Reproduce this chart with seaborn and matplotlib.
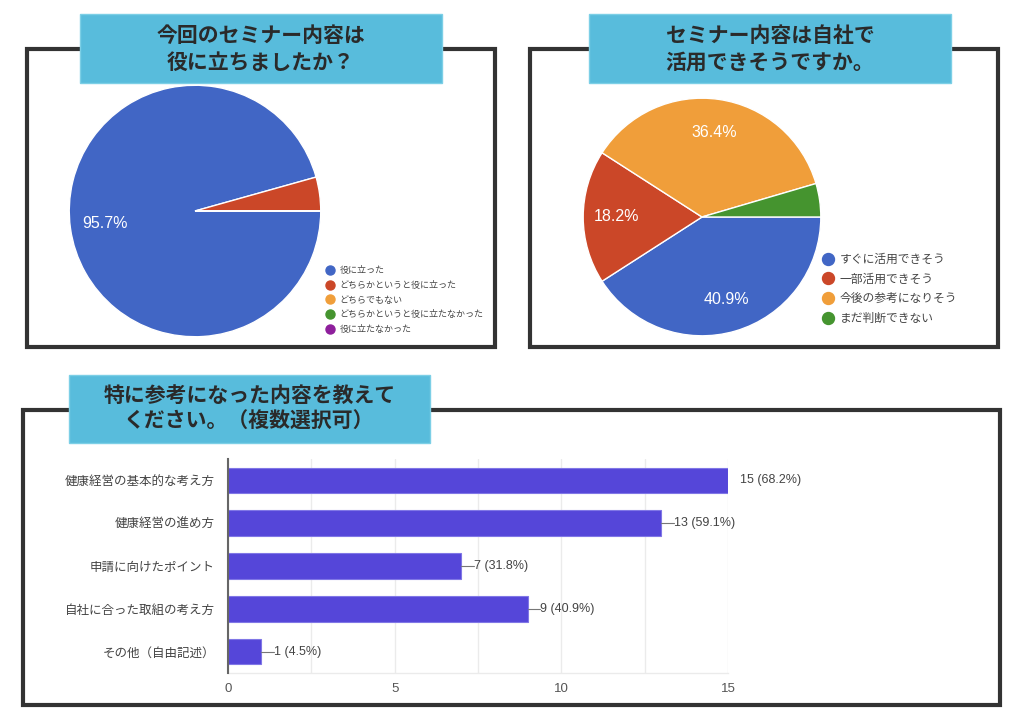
import matplotlib
matplotlib.use('Agg')
import matplotlib.pyplot as plt
import seaborn as sns
import pandas as pd
from matplotlib.patches import Rectangle
from matplotlib.lines import Line2D

W, H = 1024, 721

# ---------------- data ----------------
q1_title = "今回のセミナー内容は\n役に立ちましたか？"
q1_labels = ["役に立った", "どちらかというと役に立った", "どちらでもない",
             "どちらかというと役に立たなかった", "役に立たなかった"]
q1_counts = [22, 1, 0, 0, 0]

q2_title = "セミナー内容は自社で\n活用できそうですか。"
q2_labels = ["すぐに活用できそう", "一部活用できそう", "今後の参考になりそう", "まだ判断できない"]
q2_counts = [9, 4, 8, 1]

q3_title = "特に参考になった内容を教えて\nください。（複数選択可）"
q3_labels = ["健康経営の基本的な考え方", "健康経営の進め方", "申請に向けたポイント",
             "自社に合った取組の考え方", "その他（自由記述）"]
q3_counts = [15, 13, 7, 9, 1]
q3_total = 22
q3_ticks = [0, 5, 10, 15]
q3_minor = [2.5, 7.5, 12.5]

pie_colors = ["#4166C5", "#CB4728", "#F09E3A", "#45942F", "#8E1F9C"]
bar_color = "#5546D9"
title_bg = "#58BCDC"

# ---------------- style ----------------
sns.set_theme(style="white")
plt.rcParams['font.family'] = ['Liberation Sans', 'Noto Sans CJK JP', 'DejaVu Sans']
JP = ['Noto Sans CJK JP', 'DejaVu Sans']
LAT = ['Liberation Sans', 'Noto Sans CJK JP']


def px(x0, y0, x1, y1):
    return [x0 / W, 1 - y1 / H, (x1 - x0) / W, (y1 - y0) / H]


fig = plt.figure(figsize=(W / 100, H / 100), dpi=100)
fig.patch.set_facecolor('white')

# overlay for frames and title boxes
ov = fig.add_axes([0, 0, 1, 1])
ov.set_xlim(0, W)
ov.set_ylim(H, 0)
ov.axis('off')


def panel(frame, tbox, title, line_y):
    x0, y0, x1, y1 = frame
    ov.add_patch(Rectangle((x0, y0), x1 - x0, y1 - y0, fill=False,
                           edgecolor='#333333', linewidth=3.0, zorder=1))
    tx0, ty0, tx1, ty1 = tbox
    ov.add_patch(Rectangle((tx0, ty0), tx1 - tx0, ty1 - ty0, facecolor=title_bg,
                           edgecolor='#7ccfe6', linewidth=1, zorder=2))
    for s, y in zip(title.split('\n'), line_y):
        ov.text((tx0 + tx1) / 2, y, s, ha='center', va='center', fontsize=15,
                fontweight='bold', color='#2a2a2a', family=JP, zorder=3)


panel((27, 49, 495, 347), (80, 14, 442, 83), q1_title, (35, 62))
panel((530, 49, 998, 347), (589, 14, 951, 83), q2_title, (35, 62))
panel((23, 410, 1000, 705), (69, 375, 430, 443), q3_title, (395, 421))


def draw_pie(rect, counts, labels, legend_xy, lfs, msize, lspacing, htp):
    ax = fig.add_axes(rect)
    cols = pie_colors[:len(counts)]
    wedges, texts, autotexts = ax.pie(
        counts, colors=cols, startangle=0, counterclock=False,
        autopct=lambda p: f"{p:.1f}%" if p > 5 else "", pctdistance=0.72,
        wedgeprops=dict(edgecolor='white', linewidth=1.0),
        textprops=dict(color='white', fontsize=11.5, family=LAT))
    ax.set_xlim(-1.01, 1.01)
    ax.set_ylim(-1.01, 1.01)
    handles = [Line2D([], [], marker='o', ls='', color=c, markersize=msize) for c in cols]
    leg = ax.legend(handles, labels, loc='upper left',
                    bbox_to_anchor=(legend_xy[0] / W, 1 - legend_xy[1] / H),
                    bbox_transform=fig.transFigure, frameon=False,
                    prop=dict(family=JP, size=lfs), handlelength=1.0,
                    handletextpad=htp, labelspacing=lspacing,
                    borderpad=0, borderaxespad=0)
    for t in leg.get_texts():
        t.set_color('#444444')
    return ax


draw_pie(px(68, 84, 322, 338), q1_counts, q1_labels, (325, 266), 6.5, 6.5, 0.64, 0.6)
draw_pie(px(582, 97, 822, 337), q2_counts, q2_labels, (822, 253), 8.5, 8.6, 0.56, 0.5)

# ---------------- bar chart ----------------
axb = fig.add_axes(px(228, 459, 728, 673))
axb.set_facecolor('none')
df = pd.DataFrame({'label': q3_labels, 'count': q3_counts})
sns.barplot(data=df, x='count', y='label', orient='h', color=bar_color,
            saturation=1, width=0.6, ax=axb, edgecolor='#8077e6', linewidth=0.8)
axb.set_xlim(0, max(q3_ticks))
axb.set_ylim(len(q3_labels) - 0.5, -0.5)
axb.set_xticks(q3_ticks)
axb.set_xticks(q3_minor, minor=True)
axb.set_xticklabels([str(t) for t in q3_ticks])
axb.grid(axis='x', which='both', color='#ebebeb', linewidth=1)
axb.grid(axis='y', visible=False)
axb.set_axisbelow(True)
axb.set_xlabel('')
axb.set_ylabel('')
for s in ['top', 'right']:
    axb.spines[s].set_visible(False)
axb.spines['left'].set_color('#666666')
axb.spines['left'].set_linewidth(1.5)
axb.spines['left'].set_zorder(5)
axb.spines['bottom'].set_color('#ebebeb')
axb.spines['bottom'].set_linewidth(1)
axb.tick_params(axis='y', length=0, pad=9.4, labelsize=9, labelcolor='#444444')
axb.tick_params(axis='x', which='both', length=0, pad=7, labelsize=9.5, labelcolor='#555555')
for lab in axb.get_yticklabels():
    lab.set_family(JP)

xmax = max(q3_ticks)
for i, v in enumerate(q3_counts):
    if v < xmax:
        axb.plot([v, v + 0.37], [i, i], color='#777777', lw=0.8, clip_on=False)
    axb.text(v + 0.37, i, f"{v} ({v / q3_total * 100:.1f}%)", va='center', ha='left',
             fontsize=9, color='#444444', family=LAT, clip_on=False)

fig.savefig('out.png', dpi=100, facecolor='white')
